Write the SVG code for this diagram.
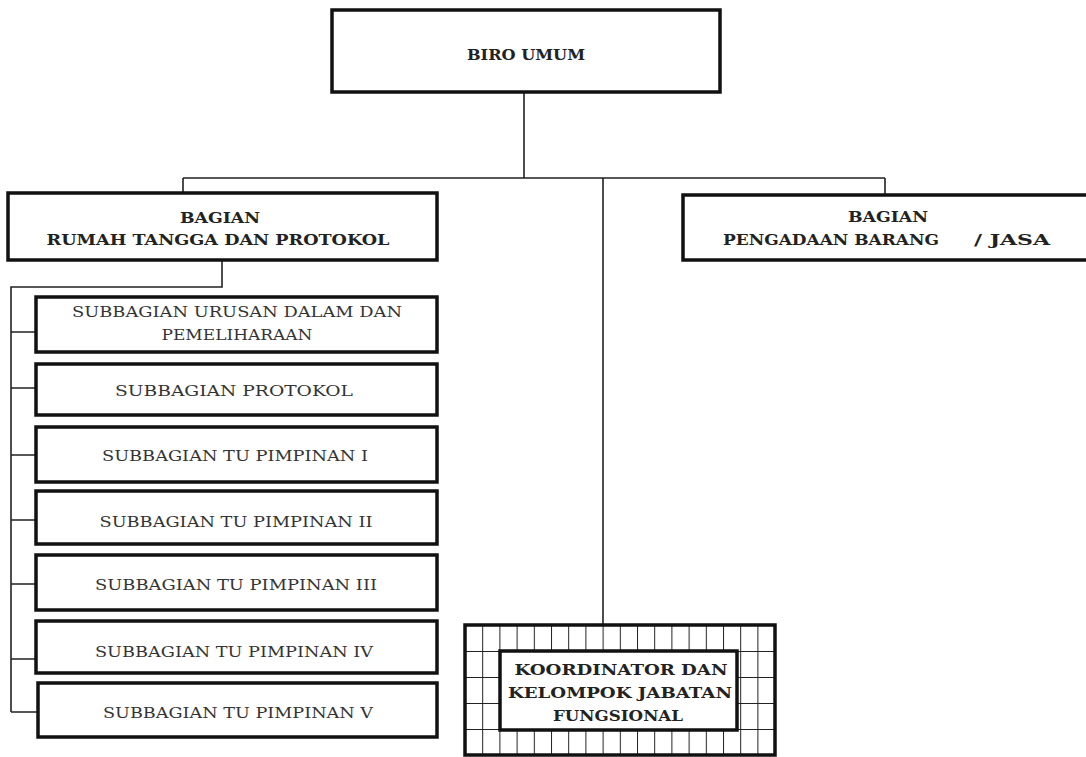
<svg xmlns="http://www.w3.org/2000/svg" width="1086" height="757" viewBox="0 0 1086 757">
<style>
.box{fill:#fff;stroke:#111;stroke-width:3.5}
.ln{fill:none;stroke:#222;stroke-width:1.6}
.h{font-family:"DejaVu Serif","Liberation Serif",serif;font-weight:bold;fill:#222;text-anchor:middle}
.s{font-family:"DejaVu Serif","Liberation Serif",serif;fill:#333;text-anchor:middle}
</style>
<defs>
<pattern id="grid" x="465" y="625" width="17.2" height="26" patternUnits="userSpaceOnUse">
<rect width="17.2" height="26" fill="#fff"/>
<path d="M0 0V26M0 0H17.2" stroke="#222" stroke-width="2" fill="none"/>
</pattern>
</defs>
<g id="connectors">
<path class="ln" d="M524 92V178M183 178H885M183 178V193M885 178V195M603 178V625"/>
<path class="ln" d="M222 260V287H11V712"/>
<path class="ln" d="M11 332H36M11 388H36M11 455H36M11 520H36M11 584H36M11 659H36M11 712H38"/>
</g>
<g id="biro-umum">
<rect class="box" x="332" y="10" width="388" height="82"/>
<text class="h" x="526" y="60" font-size="15" textLength="118" lengthAdjust="spacingAndGlyphs">BIRO UMUM</text>
</g>
<g id="bagian-rtp">
<rect class="box" x="8" y="193" width="429" height="67"/>
<text class="h" x="220" y="223" font-size="15" textLength="80" lengthAdjust="spacingAndGlyphs">BAGIAN</text>
<text class="h" x="218" y="245" font-size="15" textLength="343" lengthAdjust="spacingAndGlyphs">RUMAH TANGGA DAN PROTOKOL</text>
</g>
<g id="bagian-pbj">
<rect class="box" x="683" y="195" width="420" height="65"/>
<text class="h" x="888" y="222" font-size="15" textLength="80" lengthAdjust="spacingAndGlyphs">BAGIAN</text>
<text class="h" x="831" y="245" font-size="15" textLength="216" lengthAdjust="spacingAndGlyphs">PENGADAAN BARANG</text>
<text class="h" x="1012" y="245" font-size="15" textLength="76" lengthAdjust="spacingAndGlyphs">/  JASA</text>
</g>
<g id="sub-urusan-dalam">
<rect class="box" x="36" y="297" width="401" height="55"/>
<text class="s" x="237" y="317" font-size="14" textLength="330" lengthAdjust="spacingAndGlyphs">SUBBAGIAN URUSAN DALAM DAN</text>
<text class="s" x="237" y="340" font-size="14" textLength="151" lengthAdjust="spacingAndGlyphs">PEMELIHARAAN</text>
</g>
<g id="sub-protokol">
<rect class="box" x="36" y="364" width="401" height="51"/>
<text class="s" x="234" y="396" font-size="14" textLength="238" lengthAdjust="spacingAndGlyphs">SUBBAGIAN PROTOKOL</text>
</g>
<g id="sub-tu-1">
<rect class="box" x="36" y="427" width="401" height="55"/>
<text class="s" x="235" y="461" font-size="14" textLength="266" lengthAdjust="spacingAndGlyphs">SUBBAGIAN  TU PIMPINAN I</text>
</g>
<g id="sub-tu-2">
<rect class="box" x="36" y="491" width="401" height="53"/>
<text class="s" x="236" y="527" font-size="14" textLength="273" lengthAdjust="spacingAndGlyphs">SUBBAGIAN  TU PIMPINAN II</text>
</g>
<g id="sub-tu-3">
<rect class="box" x="36" y="555" width="401" height="55"/>
<text class="s" x="236" y="590" font-size="14" textLength="282" lengthAdjust="spacingAndGlyphs">SUBBAGIAN  TU PIMPINAN III</text>
</g>
<g id="sub-tu-4">
<rect class="box" x="36" y="621" width="401" height="52"/>
<text class="s" x="234" y="657" font-size="14" textLength="278" lengthAdjust="spacingAndGlyphs">SUBBAGIAN  TU PIMPINAN IV</text>
</g>
<g id="sub-tu-5">
<rect class="box" x="38" y="683" width="399" height="54"/>
<text class="s" x="238" y="718" font-size="14" textLength="270" lengthAdjust="spacingAndGlyphs">SUBBAGIAN  TU PIMPINAN V</text>
</g>
<g id="koordinator">
<rect x="465" y="625" width="310" height="130" fill="url(#grid)" stroke="#111" stroke-width="3.5"/>
<rect class="box" x="500" y="651" width="237" height="79"/>
<text class="h" x="621" y="675" font-size="14" textLength="213" lengthAdjust="spacingAndGlyphs">KOORDINATOR DAN</text>
<text class="h" x="620" y="698" font-size="14" textLength="224" lengthAdjust="spacingAndGlyphs">KELOMPOK  JABATAN</text>
<text class="h" x="618" y="721" font-size="14" textLength="130" lengthAdjust="spacingAndGlyphs">FUNGSIONAL</text>
</g>
</svg>
